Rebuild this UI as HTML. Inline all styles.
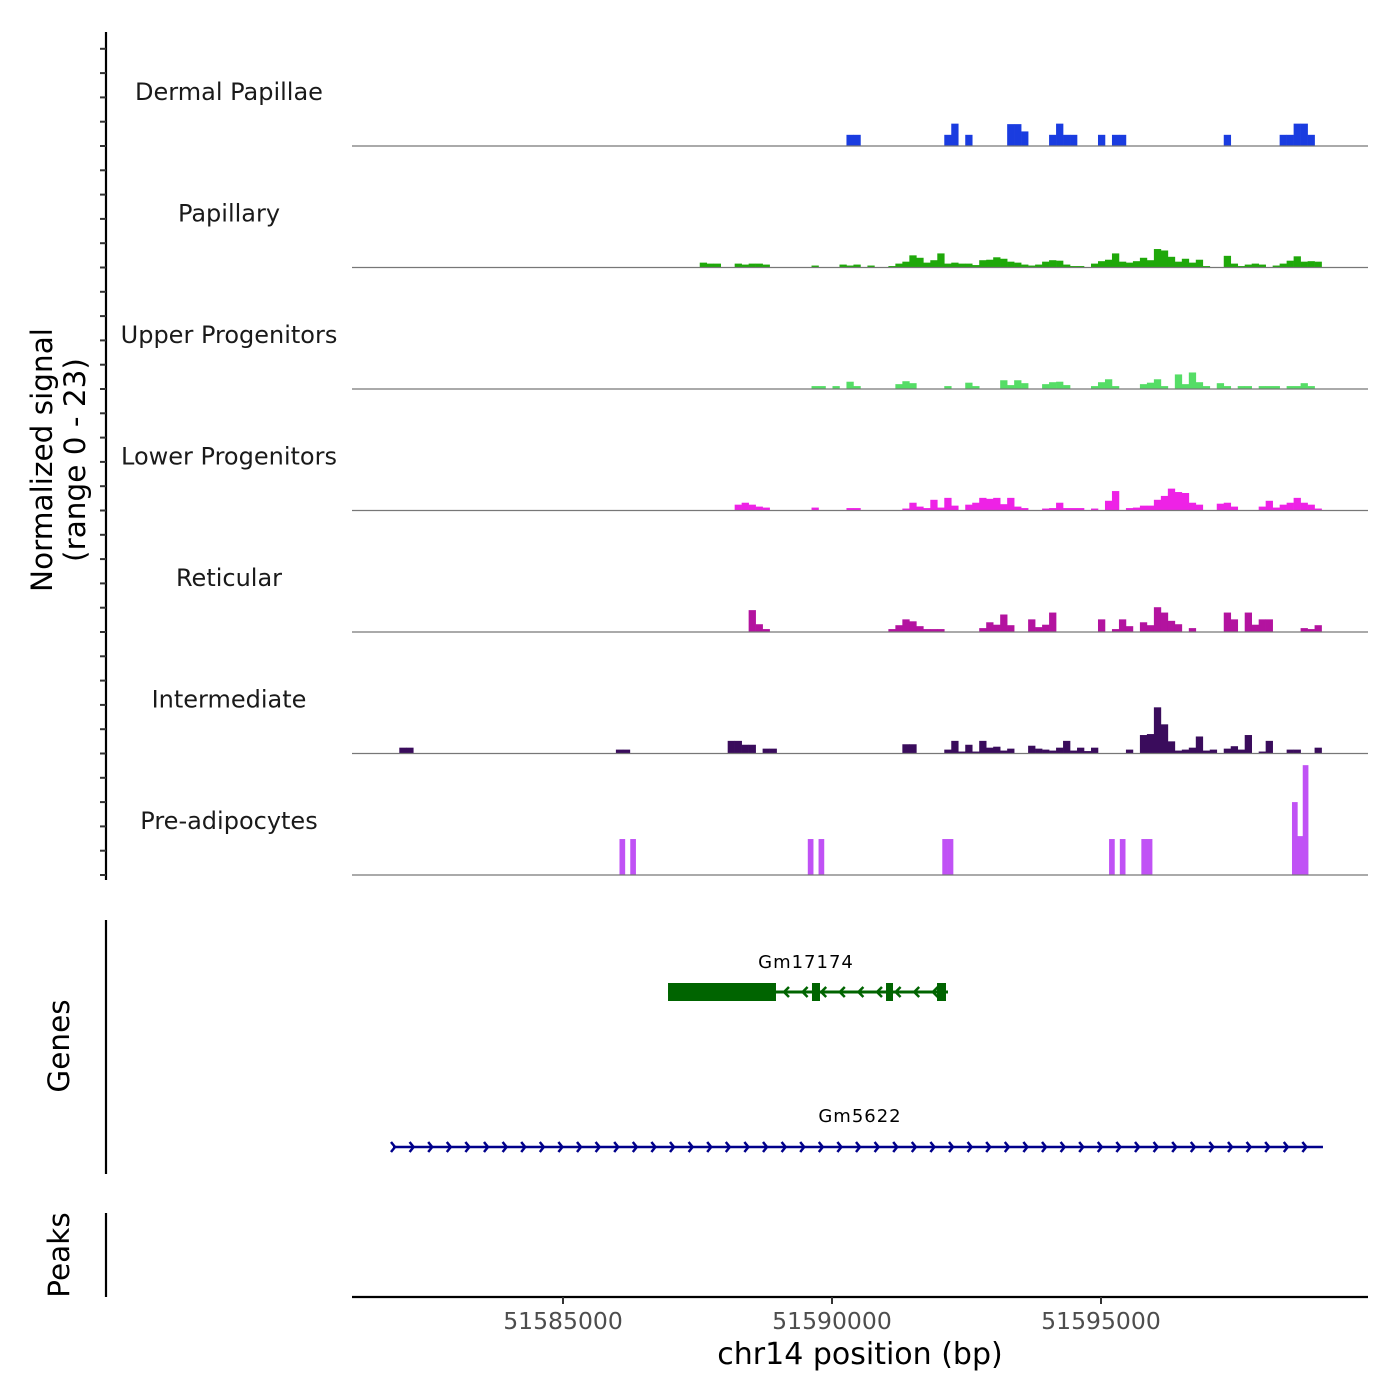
<!DOCTYPE html>
<html><head><meta charset="utf-8"><style>
html,body{margin:0;padding:0;background:#fff;}
svg{display:block;font-family:"DejaVu Sans","Liberation Sans",sans-serif;}
</style></head><body>
<svg id="chart" width="1400" height="1400" viewBox="0 0 1400 1400"></svg>
<script>
// ---- data ----
const trackBinStart = [51579100,51579100,51579100,51579100,51579100,51579100,51581050];
const trackBinSize = [129.87,129.87,129.87,129.87,129.87,129.87,100];
const trackNames = ["Dermal Papillae","Papillary","Upper Progenitors","Lower Progenitors","Reticular","Intermediate","Pre-adipocytes"];
const trackColors = ["#1a3ce0","#1fa80a","#55dd66","#ee22e6","#b3139f","#3a0c5c","#c052f5"];
const dpBins=[86,87,100,101,103,109,110,111,115,116,117,118,122,124,125,140,148,149,150,151,152];
const dpVals=[2.3,2.3,2.3,4.6,2.3,4.5,4.5,3,2.3,4.6,2.3,2.3,2.3,2.3,2.3,2.3,2.3,2.3,4.6,4.6,2.3];
const paBins=[65,66,67,70,71,72,73,74,81,85,86,87,89,92,93,94,95,96,97,98,99,100,101,102,103,104,105,106,107,108,109,110,111,112,113,114,115,116,117,118,119,121,122,123,124,125,126,127,128,129,130,131,132,133,134,135,136,137,140,141,142,143,144,145,147,148,149,150,151,152,153];
const paVals=[1,0.8,0.8,0.8,0.6,0.8,0.8,0.6,0.4,0.6,0.4,0.6,0.4,0.3,0.8,1.2,2.5,2,1,1.5,2.9,0.8,1,0.8,0.8,0.5,1.5,1.6,2.1,1.8,1.2,1,0.6,0.4,0.6,1.2,1.5,1.4,0.6,0.3,0.3,0.8,1.3,1.6,2.9,1.2,1,1.3,2,1.5,3.8,3.5,2.2,1.2,1.8,1,1.6,0.3,2.4,0.8,0.3,0.6,0.8,0.6,0.4,0.8,1.4,2.3,1.2,1.3,1.2];
const upBins=[81,82,84,86,87,93,94,95,100,103,104,108,109,110,111,114,115,116,117,121,122,123,124,128,129,130,131,133,134,135,136,137,139,140,142,143,145,146,147,149,150,151,152];
const upVals=[0.6,0.6,0.6,1.5,0.6,1,1.6,1.2,0.6,1.3,0.6,1.8,0.8,1.8,1.2,1,1.4,1.5,0.8,0.6,1.4,2,0.6,1,1.3,2,0.6,3,1,3.4,1.4,0.6,1.2,0.6,0.6,0.6,0.6,0.6,0.6,0.6,0.6,1.2,0.6];
const loBins=[70,71,72,73,74,81,86,87,94,95,96,97,98,99,100,101,103,104,105,106,107,108,109,110,111,114,115,116,117,118,119,121,123,124,126,127,128,129,130,131,132,133,134,135,136,139,140,141,145,146,147,148,149,150,151,152,153];
const loVals=[1.2,1.6,1.2,0.8,0.6,0.6,0.5,0.5,0.4,1.6,0.8,0.5,2.2,0.6,2.6,1,1.2,1.6,2.6,2.4,2.6,1.3,2.6,0.8,0.5,0.4,0.5,1.6,0.5,0.5,0.5,0.4,2,4,0.5,0.6,1,1,2.2,3,4.5,3.8,3.6,1.6,1.2,1.4,1.6,0.8,0.8,2,0.6,1.2,1.6,2.6,1.6,1.2,0.4];
const reBins=[72,73,74,92,93,94,95,96,97,98,99,105,106,107,108,109,112,113,114,115,122,124,125,126,128,129,130,131,132,133,135,140,141,143,144,145,146,151,152,153];
const reVals=[4.5,1.6,0.6,0.6,1.4,2.6,2.2,1.2,0.6,0.6,0.6,0.8,2,1.5,3.6,1.4,2.6,1,1.5,4,2.6,0.6,2.6,1.2,2,1.4,5.1,4,2.3,1.6,0.8,4,2.6,4,1.5,2.6,2.6,0.8,0.6,1.4];
const inBins=[22,23,53,54,69,70,71,72,74,75,94,95,100,101,102,103,104,105,106,107,108,109,112,113,114,115,116,117,118,119,120,121,126,128,129,130,131,132,133,134,135,136,137,138,140,141,142,143,145,146,149,150,153];
const inVals=[1.2,1.2,0.8,0.8,2.6,2.6,1.8,1.8,1,1,1.9,1.9,0.8,2.6,0.4,1.8,0.4,2.6,1.2,1.4,0.6,1,1.6,1,0.8,0.6,1.2,2.6,0.6,1.2,0.5,1.2,0.8,3.8,4,9.5,6,2.5,0.6,0.8,1.2,3.5,0.6,0.8,1,1.5,0.8,3.8,0.4,2.6,0.8,0.8,1.2];
const adBins=[50,52,85,87,110,111,141,143,147,148,175,176,177];
const adVals=[7.4,7.4,7.4,7.4,7.4,7.4,7.4,7.4,7.4,7.4,15,8,22.6];
const trackBins=[dpBins,paBins,upBins,loBins,reBins,inBins,adBins];
const trackVals=[dpVals,paVals,upVals,loVals,reVals,inVals,adVals];
const yTicks=[0,5,10,15,20];
const xTicks=[51585000,51590000,51595000];
const xTickLabels=["51585000","51590000","51595000"];
const gene1Start=51586952, gene1ThickEnd=51588959, gene1End=51592156;
const gene1ExonStarts=[51589628,51591004,51591952];
const gene1ExonEnds=[51589777,51591134,51592119];
const gene2Start=51581840, gene2End=51599126;

// ---- scales ----
const X0=352,X1=1368,BP0=51581078,BP1=51599963;
function xs(bp){return X0+(bp-BP0)*(X1-X0)/(BP1-BP0);}
const base0=146, trackStep=121.5, pxPerUnit=4.86;
function ys(i,v){return base0+i*trackStep-v*pxPerUnit;}

const svg=document.getElementById('chart');
const NS='http://www.w3.org/2000/svg';
function mk(tag,attrs,parent){const e=document.createElementNS(NS,tag);for(const k in attrs)e.setAttribute(k,attrs[k]);(parent||svg).appendChild(e);return e;}

// y axis
const ya=mk('line',{x1:106,y1:32,x2:106,y2:880,stroke:'#000','stroke-width':2.2});


for(let i=0;i<7;i++){
  for(const t of yTicks){
    const y=ys(i,t);
    const tk=mk('line',{x1:100,y1:y,x2:106,y2:y,stroke:'#333','stroke-width':2});
    
    
  }
}
const yt=mk('text',{transform:'translate(52,460) rotate(-90)','text-anchor':'middle','font-size':29.5,fill:'#000'});
yt.textContent='Normalized signal';


const yt2=mk('text',{transform:'translate(85,460) rotate(-90)','text-anchor':'middle','font-size':29.5,fill:'#000'});
yt2.textContent='(range 0 - 23)';



// tracks
for(let i=0;i<7;i++){
  const g=mk('g',{});
  
  
  const lab=mk('text',{x:229,y:ys(i,0)-46,'text-anchor':'middle','font-size':24,fill:'#1a1a1a'},g);
  lab.textContent=trackNames[i];
  
  
  const bins=trackBins[i], vals=trackVals[i], bs=trackBinStart[i], bw=trackBinSize[i];
  for(let j=0;j<bins.length;j++){
    const a=xs(bs+bins[j]*bw), b=xs(bs+(bins[j]+1)*bw);
    const top=ys(i,vals[j]), bot=ys(i,0);
    const r=mk('rect',{x:a,y:top,width:b-a+0.3,height:bot-top,fill:trackColors[i]},g);
    
    
  }
  const bl=mk('line',{x1:X0,y1:ys(i,0),x2:X1,y2:ys(i,0),stroke:'#777','stroke-width':1.2},g);
  
  
}

// genes
const ga=mk('line',{x1:106,y1:920,x2:106,y2:1174,stroke:'#000','stroke-width':2.2});


const gt=mk('text',{transform:'translate(69,1046) rotate(-90)','text-anchor':'middle','font-size':29.5,fill:'#000'});
gt.textContent='Genes';



const g1=mk('g',{});


const gy=992, green='#006400';
mk('line',{x1:xs(gene1Start),y1:gy,x2:xs(gene1End),y2:gy,stroke:green,'stroke-width':3},g1);
mk('rect',{x:xs(gene1Start),y:983,width:xs(gene1ThickEnd)-xs(gene1Start),height:18,fill:green},g1);
for(let k=0;k<gene1ExonStarts.length;k++){
  const ex=mk('rect',{x:xs(gene1ExonStarts[k]),y:983,width:xs(gene1ExonEnds[k])-xs(gene1ExonStarts[k]),height:18,fill:green},g1);
  
  
}
for(let x=xs(gene1ThickEnd)+8;x<xs(gene1End);x+=18.6){
  mk('polyline',{points:`${x+5},${gy-5} ${x},${gy} ${x+5},${gy+5}`,fill:'none',stroke:green,'stroke-width':2.5},g1);
}
const l1=mk('text',{x:806,y:968,'text-anchor':'middle','font-size':18,fill:'#000','letter-spacing':1},g1);
l1.textContent='Gm17174';

const g2=mk('g',{});


const gy2=1147, navy='#00008b';
mk('line',{x1:xs(gene2Start),y1:gy2,x2:xs(gene2End),y2:gy2,stroke:navy,'stroke-width':2.5},g2);
for(let x=xs(gene2Start)+2;x<=xs(gene2End);x+=18.6){
  mk('polyline',{points:`${x-4},${gy2-5} ${x},${gy2} ${x-4},${gy2+5}`,fill:'none',stroke:navy,'stroke-width':2.5},g2);
}
const l2=mk('text',{x:860,y:1122,'text-anchor':'middle','font-size':18,fill:'#000','letter-spacing':1},g2);
l2.textContent='Gm5622';

// peaks
const pa=mk('line',{x1:106,y1:1213,x2:106,y2:1297,stroke:'#000','stroke-width':2.2});


const pt=mk('text',{transform:'translate(69,1255) rotate(-90)','text-anchor':'middle','font-size':29.5,fill:'#000'});
pt.textContent='Peaks';



// x axis
const xa=mk('line',{x1:X0,y1:1297,x2:X1,y2:1297,stroke:'#000','stroke-width':2.2});


for(let k=0;k<xTicks.length;k++){
  const x=xs(xTicks[k]);
  const tk=mk('line',{x1:x,y1:1297,x2:x,y2:1304,stroke:'#333','stroke-width':2});
  
  
  const tl=mk('text',{x:x,y:1329,'text-anchor':'middle','font-size':23.5,fill:'#4d4d4d'});
  tl.textContent=xTickLabels[k];
  
  
}
const xt=mk('text',{x:860,y:1364,'text-anchor':'middle','font-size':30,fill:'#000'});
xt.textContent='chr14 position (bp)';


</script>
</body></html>
